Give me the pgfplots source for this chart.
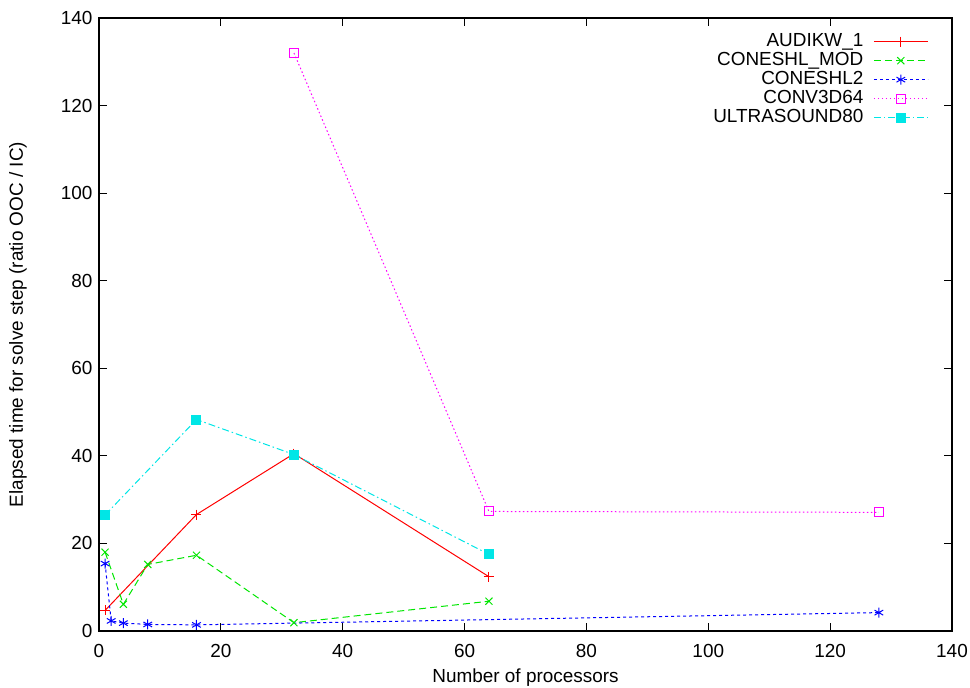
\documentclass[border=0pt]{standalone}
\usepackage{fontspec}
\setmainfont{Liberation Sans}
\usepackage{pgfplots}
\pgfplotsset{compat=1.18}
\definecolor{gred}{RGB}{255,0,0}
\definecolor{ggreen}{RGB}{0,230,0}
\definecolor{gblue}{RGB}{0,0,255}
\definecolor{gmag}{RGB}{255,0,255}
\definecolor{gcyan}{RGB}{0,230,230}
\newcommand{\ff}{\fontsize{19}{21}\selectfont}
\begin{document}
\begin{tikzpicture}
\useasboundingbox (-99bp,-57bp) rectangle (871bp,631bp);
\begin{axis}[
  scale only axis, width=853bp, height=613bp,
  xmin=0, xmax=140, ymin=0, ymax=140,
  xtick={0,20,...,140}, ytick={0,20,...,140},
  tick align=inside, tick pos=both, major tick length=8bp,
  axis line style={line width=1.3bp},
  every tick/.style={black, line width=1bp},
  /pgf/number format/assume math mode=true,
  tick label style={font=\ff},
  xticklabel style={yshift=-10bp},
  yticklabel style={xshift=-3bp},
  xlabel={Number of processors},
  ylabel={Elapsed time for solve step (ratio OOC / IC)},
  every axis x label/.style={at={(axis description cs:0.5,-0.0767)}, anchor=center, font=\ff},
  every axis y label/.style={at={(axis description cs:-0.095,0.5)}, rotate=90, anchor=center, font=\ff},
  legend plot pos=right,
  legend cell align=right,
  legend style={draw=none, fill=none, at={(0.976,0.9805)}, anchor=north east,
    font=\ff, row sep=0bp, column sep=8bp,
    nodes={text height=13bp, text depth=4bp, inner ysep=1bp}},
  legend image code/.code={\draw[mark repeat=2,mark phase=2] plot coordinates {(0bp,0bp) (27bp,0bp) (54bp,0bp)};},
  mark size=5bp,
  every axis plot/.append style={line width=1bp},
]
\addplot[gred, solid, mark=+, mark options={solid}] coordinates {(1,4.7) (16,26.6) (32,40.5) (64,12.4)};
\addlegendentry{AUDIKW\_1}
\addplot[ggreen, dash pattern=on 7bp off 4bp, mark=x, mark options={solid}] coordinates {(1,18.0) (4,6.1) (8,15.2) (16,17.3) (32,1.9) (64,6.8)};
\addlegendentry{CONESHL\_MOD}
\addplot[gblue, dash pattern=on 3bp off 3bp, mark=asterisk, mark options={solid}] coordinates {(1,15.4) (2,2.3) (4,1.8) (8,1.5) (16,1.4) (128,4.2)};
\addlegendentry{CONESHL2}
\addplot[gmag, dash pattern=on 1.5bp off 2.5bp, mark=square, mark options={solid, mark size=4.5bp}] coordinates {(32,132.0) (64,27.3) (128,27.1)};
\addlegendentry{CONV3D64}
\addplot[gcyan, dash pattern=on 7bp off 3bp on 1.5bp off 3bp, mark=square*, mark options={solid, fill=gcyan, mark size=4.5bp}] coordinates {(1,26.5) (16,48.3) (32,40.3) (64,17.5)};
\addlegendentry{ULTRASOUND80}
\end{axis}
\end{tikzpicture}
\end{document}
